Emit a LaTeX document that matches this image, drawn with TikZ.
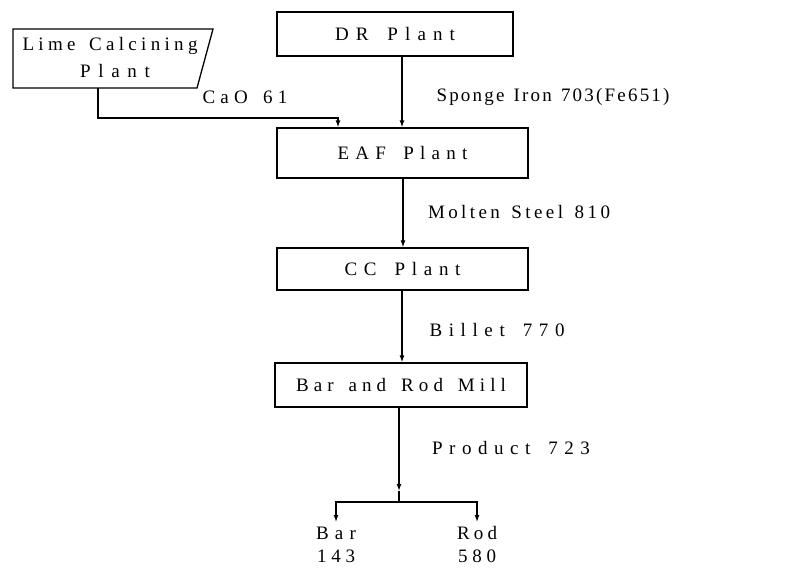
\documentclass[tikz,border=0pt]{standalone}
\usepackage{fontspec}
\setmainfont{Liberation Serif}
\usetikzlibrary{arrows.meta}
\makeatletter
\newcommand\spreadtxt[2]{\makebox[#1][s]{\@tfor\sprch:=#2\do{\sprch\hfil}\unskip}}
\makeatother
\begin{document}
\begin{tikzpicture}[x=1pt,y=-1pt,
  line width=1.3pt,
  lbl/.style={inner sep=0pt, font=\fontsize{19}{22}\selectfont},
  plantbox/.style={draw, line width=1.3pt, inner sep=0pt, font=\fontsize{19}{22}\selectfont},
  arr/.style={-{Latex[length=7pt,width=5pt]}}]
\useasboundingbox (0,0) rectangle (799,573);
% Lime calcining plant (trapezoid)
\draw (13,29) -- (213,29) -- (197,88) -- (13,88) -- cycle;
\node[lbl] (lime1) at (110,46) {\spreadtxt{175pt}{Lime~Calcining}};
\node[lbl] (lime2) at (115,71) {\spreadtxt{70pt}{Plant}};
\coordinate (limeb) at (98,88);
% plant boxes
\node[plantbox, minimum width=236pt, minimum height=44pt] (dr) at (395,34) {\spreadtxt{120pt}{DR~Plant}};
\node[plantbox, minimum width=251pt, minimum height=50pt] (eaf) at (402.5,153) {\spreadtxt{130pt}{EAF~Plant}};
\node[plantbox, minimum width=251pt, minimum height=42pt] (cc) at (402.5,269) {\spreadtxt{116pt}{CC~Plant}};
\node[plantbox, minimum width=252pt, minimum height=44pt] (mill) at (401,385) {\spreadtxt{210pt}{Bar~and~Rod~Mill}};
% flow labels
\node[lbl] (cao) at (245,97) {\spreadtxt{85pt}{CaO~61}};
\node[lbl] (sponge) at (553,97) {\spreadtxt{233pt}{Sponge~Iron~703(Fe651)}};
\node[lbl] (molten) at (519,212) {\spreadtxt{182pt}{Molten~Steel~810}};
\node[lbl] (billet) at (497,330) {\spreadtxt{135pt}{Billet~770}};
\node[lbl] (product) at (511,448) {\spreadtxt{158pt}{Product~723}};
% connectors
\coordinate (caoturn) at (338,118);
\draw[arr] (limeb) |- (caoturn) -- (caoturn |- eaf.north);
\draw[arr] (dr.south -| 402,0) -- (402,0 |- eaf.north);
\draw[arr] (eaf.south -| 403,0) -- (403,0 |- cc.north);
\draw[arr] (cc.south -| 402,0) -- (402,0 |- mill.north);
\coordinate (split) at (399,502);
\coordinate (midtip) at (399,491);
\draw[arr] (split |- mill.south) -- (midtip);
\draw (midtip) -- (split);
\coordinate (barend) at (336,522);
\coordinate (rodend) at (477,522);
\draw[arr] (split) -| (barend);
\draw[arr] (split) -| (rodend);
% outputs
\node[lbl, anchor=north] (bar) at (barend |- 0,526) {\spreadtxt{40pt}{Bar}};
\node[lbl, anchor=north] (barv) at (barend |- 0,549) {\spreadtxt{38pt}{143}};
\node[lbl, anchor=north] (rod) at (rodend |- 0,526) {\spreadtxt{40pt}{Rod}};
\node[lbl, anchor=north] (rodv) at (rodend |- 0,549) {\spreadtxt{38pt}{580}};
\end{tikzpicture}
\end{document}
